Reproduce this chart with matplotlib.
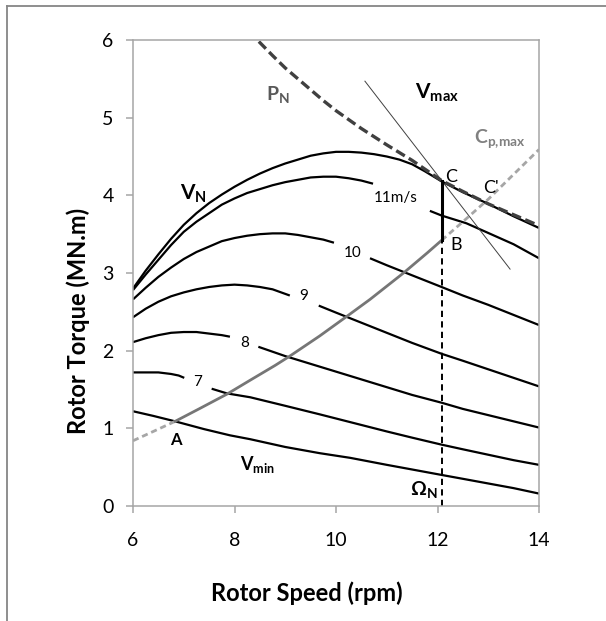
import matplotlib
matplotlib.use("Agg")
import matplotlib.pyplot as plt
from matplotlib.lines import Line2D

plt.rcParams['font.family'] = ['Lato', 'DejaVu Sans']
plt.rcParams['mathtext.fontset'] = 'custom'
plt.rcParams['mathtext.rm'] = 'Lato'
plt.rcParams['mathtext.bf'] = 'Lato:bold'
plt.rcParams['mathtext.it'] = 'Lato:italic'
plt.rcParams['mathtext.fallback'] = 'stixsans'

# torque vs rotor speed for constant wind speeds (rpm, MN.m)
vn_x = [6.0, 6.25, 6.5, 6.75, 7.0, 7.25, 7.5, 7.75, 8.0, 8.25, 8.5, 8.75, 9.0, 9.25, 9.5, 9.75,
        10.0, 10.25, 10.5, 10.75, 11.0, 11.25, 11.5, 11.75, 12.08, 12.5, 13.0, 13.5, 14.0]
vn_y = [2.80, 3.03, 3.24, 3.44, 3.62, 3.77, 3.90, 4.01, 4.11, 4.20, 4.28, 4.35, 4.41, 4.46, 4.51, 4.54,
        4.56, 4.56, 4.55, 4.53, 4.50, 4.46, 4.40, 4.31, 4.18, 4.04, 3.89, 3.73, 3.58]

v11_x1 = [6.0, 6.25, 6.5, 6.75, 7.0, 7.25, 7.5, 7.75, 8.0, 8.25, 8.5, 8.75, 9.0, 9.25, 9.5, 9.75,
          10.0, 10.25, 10.5, 10.73]
v11_y1 = [2.78, 2.98, 3.17, 3.36, 3.53, 3.66, 3.77, 3.88, 3.96, 4.03, 4.08, 4.13, 4.17, 4.20, 4.23, 4.24,
          4.24, 4.22, 4.19, 4.15]
v11_x2 = [11.85, 12.08, 12.57, 12.95, 13.5, 14.0]
v11_y2 = [3.80, 3.74, 3.64, 3.53, 3.37, 3.19]

v10_x1 = [6.0, 6.25, 6.5, 6.75, 7.0, 7.25, 7.5, 7.75, 8.0, 8.25, 8.5, 8.75, 9.0, 9.25, 9.5, 9.75, 9.96]
v10_y1 = [2.66, 2.81, 2.95, 3.07, 3.18, 3.27, 3.34, 3.41, 3.45, 3.48, 3.50, 3.51, 3.51, 3.49, 3.46, 3.43, 3.39]
v10_x2 = [10.67, 11.0, 11.5, 12.08, 12.5, 13.0, 13.5, 14.0]
v10_y2 = [3.19, 3.10, 2.97, 2.82, 2.71, 2.59, 2.46, 2.33]

v9_x1 = [6.0, 6.25, 6.5, 6.75, 7.0, 7.25, 7.5, 7.75, 8.0, 8.25, 8.5, 8.75, 9.09]
v9_y1 = [2.43, 2.54, 2.63, 2.70, 2.75, 2.79, 2.82, 2.84, 2.85, 2.84, 2.82, 2.79, 2.71]
v9_x2 = [9.66, 10.0, 10.5, 11.0, 11.5, 12.08, 12.5, 13.0, 13.5, 14.0]
v9_y2 = [2.58, 2.49, 2.36, 2.23, 2.10, 1.96, 1.87, 1.76, 1.65, 1.54]

v8_x1 = [6.0, 6.25, 6.5, 6.75, 7.0, 7.25, 7.5, 7.75, 7.91]
v8_y1 = [2.11, 2.16, 2.20, 2.23, 2.24, 2.24, 2.22, 2.20, 2.18]
v8_x2 = [8.47, 9.0, 9.65, 10.0, 10.5, 11.0, 11.5, 12.08, 12.5, 13.0, 13.5, 14.0]
v8_y2 = [2.05, 1.93, 1.80, 1.73, 1.63, 1.53, 1.43, 1.33, 1.25, 1.17, 1.09, 1.01]

v7_x1 = [6.0, 6.25, 6.5, 6.75, 6.9, 7.01]
v7_y1 = [1.72, 1.72, 1.72, 1.70, 1.68, 1.65]
v7_x2 = [7.55, 7.85, 8.31, 9.0, 9.68, 10.28, 11.0, 11.5, 12.08, 12.5, 13.0, 13.5, 14.0]
v7_y2 = [1.51, 1.45, 1.40, 1.29, 1.18, 1.08, 0.96, 0.88, 0.79, 0.73, 0.66, 0.59, 0.53]

vmin_x = [6.0, 6.4, 6.83, 7.4, 7.91, 8.31, 9.0, 9.68, 10.28, 11.0, 11.5, 12.08, 12.5, 13.0, 13.5, 14.0]
vmin_y = [1.22, 1.16, 1.09, 0.99, 0.91, 0.86, 0.76, 0.68, 0.62, 0.53, 0.47, 0.40, 0.35, 0.29, 0.23, 0.16]

# optimal Cp tracking curve
cp_lo_x = [6.0, 6.4, 6.83]
cp_lo_y = [0.84, 0.96, 1.09]
cp_x = [6.83, 7.3, 7.85, 8.31, 8.8, 9.09, 9.68, 10.21, 10.67, 11.0, 11.33, 11.8, 12.08]
cp_y = [1.09, 1.25, 1.44, 1.62, 1.81, 1.93, 2.19, 2.44, 2.66, 2.83, 3.00, 3.26, 3.42]
cp_hi_x = [12.08, 12.5, 13.0, 13.5, 14.0]
cp_hi_y = [3.42, 3.66, 3.95, 4.27, 4.59]

# rated power curve
pn_x = [8.48, 8.75, 9.0, 9.25, 9.5, 9.75, 10.0, 10.5, 11.0, 11.5, 11.79, 12.08, 12.5, 13.0, 13.5, 14.0]
pn_y = [5.98, 5.80, 5.64, 5.50, 5.36, 5.22, 5.09, 4.86, 4.65, 4.45, 4.32, 4.19, 4.05, 3.89, 3.75, 3.61]

# max wind speed limit line
vmax_x = [10.57, 13.43]
vmax_y = [5.47, 3.05]

# rated speed
omega_n = 12.08
torque_b = 3.42
torque_c = 4.18

fig = plt.figure(figsize=(6.06, 6.21), dpi=100)
ax = fig.add_axes([133 / 606, 1 - 506 / 621, 406 / 606, 466 / 621])

black = dict(color='black', lw=1.6, solid_capstyle='butt', solid_joinstyle='round')
ax.plot(vn_x, vn_y, **black)
for xs, ys in [(v11_x1, v11_y1), (v11_x2, v11_y2), (v10_x1, v10_y1), (v10_x2, v10_y2),
               (v9_x1, v9_y1), (v9_x2, v9_y2), (v8_x1, v8_y1), (v8_x2, v8_y2),
               (v7_x1, v7_y1), (v7_x2, v7_y2), (vmin_x, vmin_y)]:
    ax.plot(xs, ys, **black)

ax.plot(cp_lo_x, cp_lo_y, color='#a6a6a6', lw=2.0, dashes=(2.2, 1.4))
ax.plot(cp_x, cp_y, color='#767676', lw=2.0)
ax.plot(cp_hi_x, cp_hi_y, color='#a6a6a6', lw=2.0, dashes=(2.2, 1.4))

ax.plot(pn_x, pn_y, color='#404040', lw=2.4, dashes=(3.0, 1.4))
ax.plot(vmax_x, vmax_y, color='#404040', lw=0.7)

ax.plot([omega_n, omega_n], [0, torque_b], color='black', lw=1.4, dashes=(3.2, 2.2))
ax.plot([omega_n, omega_n], [torque_b, torque_c], color='black', lw=2.2)

# curve labels
ax.text(11.56, 5.24, r'$\mathbf{V_{max}}$', fontsize=15, ha='left', va='baseline')
ax.text(8.63, 5.23, r'$\mathbf{P_N}$', fontsize=14, color='#595959', ha='left', va='baseline')
ax.text(12.72, 4.67, r'$\mathbf{C_{p{,}max}}$', fontsize=14, color='#808080', ha='left', va='baseline')
ax.text(6.93, 3.94, r'$\mathbf{V_N}$', fontsize=15, ha='left', va='baseline')
ax.text(12.15, 4.17, 'C', fontsize=13, ha='left', va='baseline')
ax.text(12.9, 4.03, "C'", fontsize=13, ha='left', va='baseline')
ax.text(12.25, 3.30, 'B', fontsize=13, ha='left', va='baseline')
ax.text(6.74, 0.78, 'A', fontsize=12, fontweight='bold', ha='left', va='baseline')
ax.text(8.1, 0.46, r'$\mathbf{V_{min}}$', fontsize=13, ha='left', va='baseline')
ax.text(11.46, 0.14, r'$\mathbf{\Omega_N}$', fontsize=14, ha='left', va='baseline')

ax.text(11.18, 3.96, '11m/s', fontsize=11, ha='center', va='center')
ax.text(10.33, 3.26, '10', fontsize=11, ha='center', va='center')
ax.text(9.37, 2.70, '9', fontsize=11, ha='center', va='center')
ax.text(8.21, 2.10, '8', fontsize=11, ha='center', va='center')
ax.text(7.27, 1.60, '7', fontsize=11, ha='center', va='center')

ax.set_xlim(6, 14)
ax.set_ylim(0, 6)
ax.set_xticks([6, 8, 10, 12, 14])
ax.set_yticks([0, 1, 2, 3, 4, 5, 6])
for s in ax.spines.values():
    s.set_color('#a6a6a6')
    s.set_linewidth(1.1)
ax.tick_params(direction='out', length=5, width=1.1, color='#a6a6a6', labelsize=14)
ax.tick_params(axis='x', pad=14)
ax.tick_params(axis='y', pad=9)

fig.text(307 / 606, 1 - 593 / 621, 'Rotor Speed (rpm)', fontsize=17, fontweight='bold',
         ha='center', va='center')
fig.text(78 / 606, 1 - 321 / 621, 'Rotor Torque (MN.m)', fontsize=17, fontweight='bold',
         rotation=90, ha='center', va='center')

# chart frame
fig.add_artist(Line2D([7 / 606, 7 / 606], [0, 1 - 6 / 621], transform=fig.transFigure,
                      color='#868686', lw=1.3))
fig.add_artist(Line2D([7 / 606, 1], [1 - 6 / 621, 1 - 6 / 621], transform=fig.transFigure,
                      color='#868686', lw=1.3))

fig.savefig('out.png', dpi=100)
